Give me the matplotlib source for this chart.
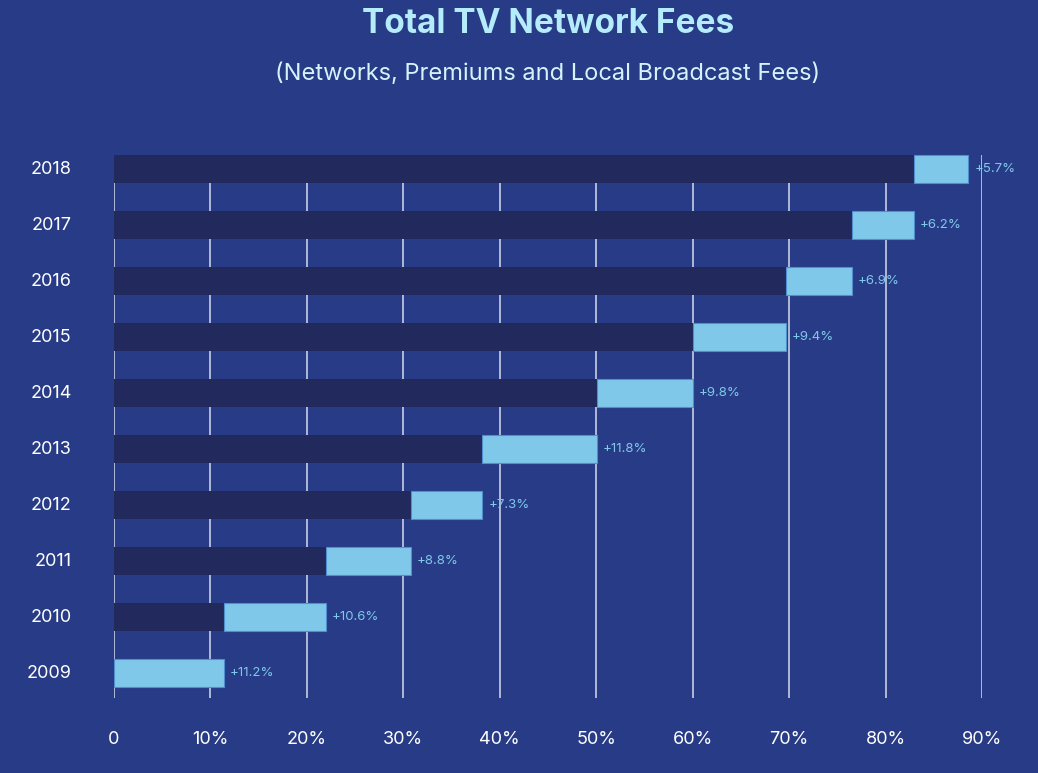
import numpy as np
import matplotlib.pyplot as plt

years = ["2009", "2010", "2011", "2012", "2013", "2014", "2015", "2016", "2017", "2018"]
# cumulative fee growth (end of each bar)
ends = [11.4, 22.0, 30.8, 38.2, 50.1, 60.0, 69.7, 76.5, 82.9, 88.6]
growth = ["+11.2%", "+10.6%", "+8.8%", "+7.3%", "+11.8%", "+9.8%", "+9.4%", "+6.9%", "+6.2%", "+5.7%"]
xticks = [0, 10, 20, 30, 40, 50, 60, 70, 80, 90]
xlabels = ["0", "10%", "20%", "30%", "40%", "50%", "60%", "70%", "80%", "90%"]

bg = "#283b86"
dark = "#22295d"
light = "#7fc8ea"

plt.rcParams["font.family"] = ["Inter", "DejaVu Sans"]

W, H = 1038, 773
fig = plt.figure(figsize=(W / 100, H / 100), dpi=100, facecolor=bg)
ax = fig.add_axes([114 / W, (773 - 701) / H, 868 / W, 560 / H])
ax.set_facecolor(bg)
ax.set_xlim(0, 90)
ax.set_ylim(-0.5, 9.5)

y = np.arange(len(years))
starts = [0] + ends[:-1]
widths = np.array(ends) - np.array(starts)

# grid lines behind bars
ax.vlines(xticks, -0.45, 9.25, color="#c9cee3", lw=1.2, zorder=1)

ax.barh(y, starts, height=0.5, color=dark, zorder=2)
ax.barh(y, widths, left=starts, height=0.5, color=light,
        edgecolor="#4f8fd0", linewidth=0.8, zorder=3)

for yi, e, g in zip(y, ends, growth):
    ax.text(e + 0.6, yi, g, color=light, fontsize=9.5, va="center", ha="left")

for yi, yr in zip(y, years):
    ax.text(-4.4, yi, yr, color="white", fontsize=13, va="center", ha="right")

for xt, xl in zip(xticks, xlabels):
    ax.text(xt, -1.18, xl, color="white", fontsize=13, va="center", ha="center")

ax.set_xticks([])
ax.set_yticks([])
for s in ax.spines.values():
    s.set_visible(False)

fig.text(548 / W, 1 - 24 / H, "Total TV Network Fees", color="#b4ecfb", fontsize=24,
         fontweight="bold", ha="center", va="center")
fig.text(548 / W, 1 - 74 / H, "(Networks, Premiums and Local Broadcast Fees)", color="#d6f3fc",
         fontsize=17, ha="center", va="center")

fig.savefig("out.png", dpi=100, facecolor=bg)
